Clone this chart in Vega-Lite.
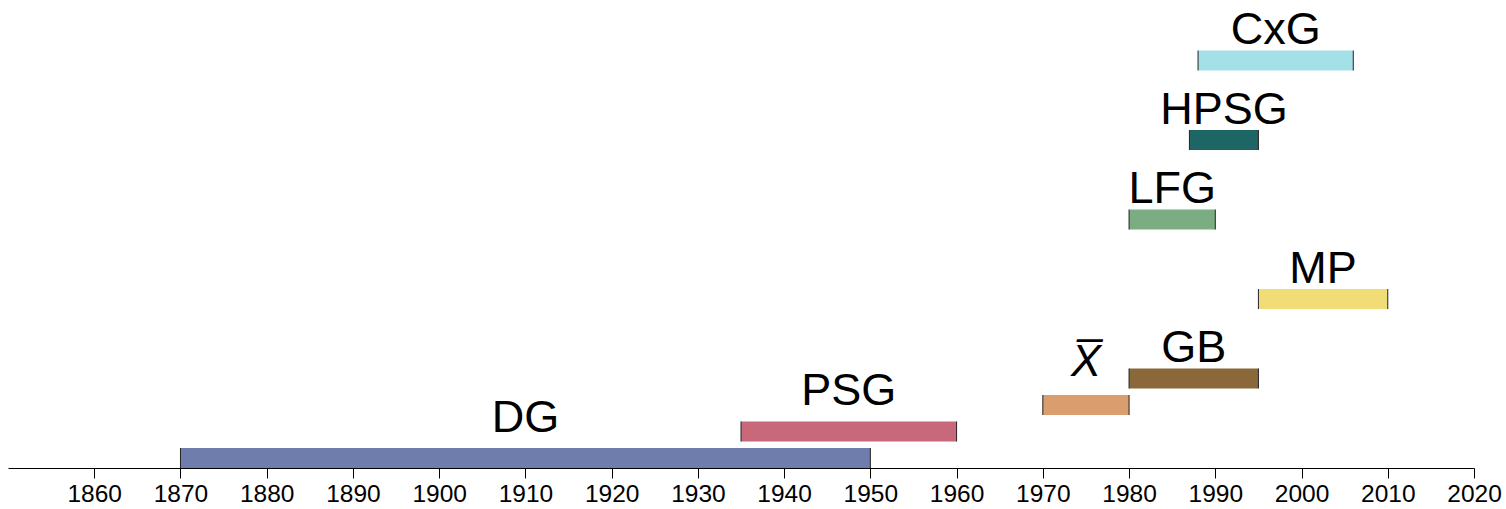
{
  "$schema": "https://vega.github.io/schema/vega-lite/v6.json",
  "width": 1466,
  "height": 468,
  "autosize": "none",
  "padding": {"left": 8, "top": 0, "right": 32, "bottom": 41},
  "config": {"view": {"stroke": null}, "font": "Liberation Sans"},
  "data": {
    "values": [
      {"name": "DG", "start": 1870, "end": 1950, "level": 0, "grp": "a"},
      {"name": "PSG", "start": 1935, "end": 1960, "level": 1, "grp": "a"},
      {"name": "X̅", "start": 1970, "end": 1980, "level": 2, "grp": "x"},
      {"name": "GB", "start": 1980, "end": 1995, "level": 3, "grp": "b"},
      {"name": "MP", "start": 1995, "end": 2010, "level": 6, "grp": "b"},
      {"name": "LFG", "start": 1980, "end": 1990, "level": 9, "grp": "b"},
      {"name": "HPSG", "start": 1987, "end": 1995, "level": 12, "grp": "b"},
      {"name": "CxG", "start": 1988, "end": 2006, "level": 15, "grp": "b"}
    ]
  },
  "layer": [
    {
      "mark": {"type": "bar", "height": 20, "yOffset": -10},
      "encoding": {
        "x": {
          "field": "start", "type": "quantitative",
          "scale": {"domain": [1850, 2020], "nice": false, "zero": false, "padding": 0},
          "axis": {
            "values": [1860, 1870, 1880, 1890, 1900, 1910, 1920, 1930, 1940, 1950, 1960, 1970, 1980, 1990, 2000, 2010, 2020],
            "format": "d", "title": null, "grid": false,
            "domainColor": "#000000", "domainWidth": 1,
            "tickColor": "#000000", "tickSize": 10, "tickWidth": 1,
            "labelFontSize": 24.5, "labelColor": "#000000", "labelPadding": 4,
            "labelFont": "Liberation Sans", "labelFlush": false, "labelOverlap": false
          }
        },
        "x2": {"field": "end"},
        "y": {"field": "level", "type": "quantitative", "scale": {"domain": [0, 17.66], "nice": false, "zero": false, "padding": 0}, "axis": null},
        "color": {
          "field": "name", "type": "nominal", "legend": null,
          "scale": {
            "domain": ["DG", "PSG", "X̅", "GB", "MP", "LFG", "HPSG", "CxG"],
            "range": ["#6e7dac", "#c8687a", "#d99d6e", "#8b6839", "#f0dd75", "#7aae82", "#1d6664", "#a4e0e8"]
          }
        }
      }
    },
    {
      "mark": {"type": "tick", "orient": "vertical", "size": 20, "thickness": 1, "yOffset": -10, "color": "#222222", "opacity": 1},
      "encoding": {
        "x": {"field": "start", "type": "quantitative"},
        "y": {"field": "level", "type": "quantitative"}
      }
    },
    {
      "mark": {"type": "tick", "orient": "vertical", "size": 20, "thickness": 1, "yOffset": -10, "color": "#222222", "opacity": 1},
      "encoding": {
        "x": {"field": "end", "type": "quantitative"},
        "y": {"field": "level", "type": "quantitative"}
      }
    },
    {
      "transform": [{"filter": "datum.grp == 'a'"}, {"fold": ["start", "end"], "as": ["k", "yr"]}],
      "mark": {"type": "text", "fontSize": 45, "dy": -36, "baseline": "alphabetic", "align": "center", "color": "#000000"},
      "encoding": {
        "x": {"aggregate": "mean", "field": "yr", "type": "quantitative"},
        "y": {"field": "level", "type": "quantitative"},
        "text": {"field": "name"}
      }
    },
    {
      "transform": [{"filter": "datum.grp == 'b'"}, {"fold": ["start", "end"], "as": ["k", "yr"]}],
      "mark": {"type": "text", "fontSize": 45, "dy": -26, "baseline": "alphabetic", "align": "center", "color": "#000000"},
      "encoding": {
        "x": {"aggregate": "mean", "field": "yr", "type": "quantitative"},
        "y": {"field": "level", "type": "quantitative"},
        "text": {"field": "name"}
      }
    },
    {
      "transform": [{"filter": "datum.grp == 'x'"}, {"fold": ["start", "end"], "as": ["k", "yr"]}],
      "mark": {"type": "text", "fontSize": 45, "fontStyle": "italic", "dy": -39, "baseline": "alphabetic", "align": "center", "color": "#000000"},
      "encoding": {
        "x": {"aggregate": "mean", "field": "yr", "type": "quantitative"},
        "y": {"field": "level", "type": "quantitative"},
        "text": {"field": "name"}
      }
    }
  ]
}
